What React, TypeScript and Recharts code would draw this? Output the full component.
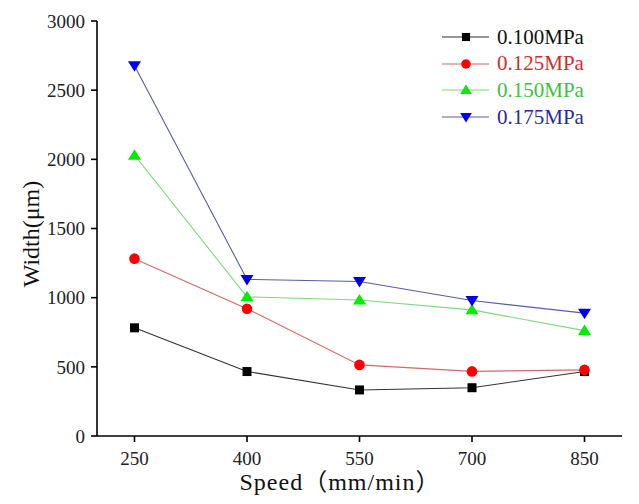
import { LineChart, Line, XAxis, YAxis } from 'recharts';

const speeds = [250, 400, 550, 700, 850];
const w100 = [782, 466, 333, 349, 466];
const w125 = [1282, 920, 514, 467, 478];
const w150 = [2030, 1006, 983, 912, 762];
const w175 = [2676, 1132, 1117, 979, 888];
const xTicks = [250, 400, 550, 700, 850];
const yTicks = [0, 500, 1000, 1500, 2000, 2500, 3000];

const data = speeds.map((s, i) => ({
  speed: s,
  p100: w100[i],
  p125: w125[i],
  p150: w150[i],
  p175: w175[i],
}));

const font = '"Liberation Serif", "Times New Roman", "Noto Sans CJK SC", serif';

type Shape = 'square' | 'circle' | 'up' | 'down';

const series: { key: string; name: string; fill: string; line: string; text: string; shape: Shape }[] = [
  { key: 'p100', name: '0.100MPa', fill: '#000000', line: '#333333', text: '#111111', shape: 'square' },
  { key: 'p125', name: '0.125MPa', fill: '#ff0000', line: '#d06a6a', text: '#d42a2a', shape: 'circle' },
  { key: 'p150', name: '0.150MPa', fill: '#00ee00', line: '#7fd87f', text: '#3cc23c', shape: 'up' },
  { key: 'p175', name: '0.175MPa', fill: '#0000ee', line: '#5a5aaa', text: '#2a2a9c', shape: 'down' },
];

function Marker({ cx, cy, shape, fill, s = 1 }: { cx: number; cy: number; shape: Shape; fill: string; s?: number }) {
  if (shape === 'square') return <rect x={cx - 4.5 * s} y={cy - 4.5 * s} width={9 * s} height={9 * s} fill={fill} />;
  if (shape === 'circle') return <circle cx={cx} cy={cy} r={5.3 * s} fill={fill} />;
  if (shape === 'up')
    return (
      <polygon
        points={`${cx - 6.5 * s},${cy + 4.5 * s} ${cx + 6.5 * s},${cy + 4.5 * s} ${cx},${cy - 6 * s}`}
        fill={fill}
      />
    );
  return (
    <polygon
      points={`${cx - 6.5 * s},${cy - 4.5 * s} ${cx + 6.5 * s},${cy - 4.5 * s} ${cx},${cy + 6 * s}`}
      fill={fill}
    />
  );
}

function LegendBox() {
  return (
    <div style={{ position: 'absolute', left: 442, top: 24, fontFamily: font, fontSize: 21 }}>
      {series.map((s) => (
        <div key={s.key} style={{ display: 'flex', alignItems: 'center', height: 26.6 }}>
          <svg width={48} height={16} style={{ display: 'block' }}>
            <line x1={0} y1={8} x2={47} y2={8} stroke={s.line} strokeWidth={1.2} />
            <Marker cx={24} cy={8} shape={s.shape} fill={s.fill} s={0.9} />
          </svg>
          <span style={{ color: s.text, marginLeft: 7, lineHeight: '21px' }}>{s.name}</span>
        </div>
      ))}
    </div>
  );
}

export default function App() {
  return (
    <div style={{ position: 'absolute', left: 0, top: 0, width: 639, height: 504, background: '#fff' }}>
      <LineChart width={639} height={504} data={data} margin={{ top: 21, right: 17, left: 37, bottom: 28 }}>
        <XAxis
          dataKey="speed"
          type="number"
          domain={[200, 900]}
          ticks={xTicks}
          stroke="#000"
          strokeWidth={1.6}
          tickSize={6}
          tickMargin={10}
          height={40}
          tick={{ fontFamily: font, fontSize: 19, fill: '#222' }}
        />
        <YAxis
          type="number"
          domain={[0, 3000]}
          ticks={yTicks}
          stroke="#000"
          strokeWidth={1.6}
          tickSize={6}
          tickMargin={6}
          width={60}
          tick={{ fontFamily: font, fontSize: 19, fill: '#222' }}
        />
        {series.map((s) => (
          <Line
            key={s.key}
            dataKey={s.key}
            name={s.name}
            stroke={s.line}
            strokeWidth={1.1}
            isAnimationActive={false}
            dot={(p: any) => <Marker key={`${s.key}-${p.index}`} cx={p.cx} cy={p.cy} shape={s.shape} fill={s.fill} />}
            activeDot={false}
          />
        ))}
      </LineChart>
      <LegendBox />
      <div
        style={{
          position: 'absolute',
          left: 31,
          top: 234,
          transform: 'translate(-50%, -50%) rotate(-90deg)',
          fontFamily: font,
          fontSize: 24,
          lineHeight: '24px',
          color: '#111',
          whiteSpace: 'nowrap',
        }}
      >
        Width(μm)
      </div>
      <div
        style={{
          position: 'absolute',
          left: 340,
          top: 470,
          transform: 'translate(-50%, 0)',
          fontFamily: font,
          fontSize: 24,
          lineHeight: '24px',
          letterSpacing: 1,
          color: '#111',
          whiteSpace: 'nowrap',
        }}
      >
        Speed（mm/min）
      </div>
    </div>
  );
}
